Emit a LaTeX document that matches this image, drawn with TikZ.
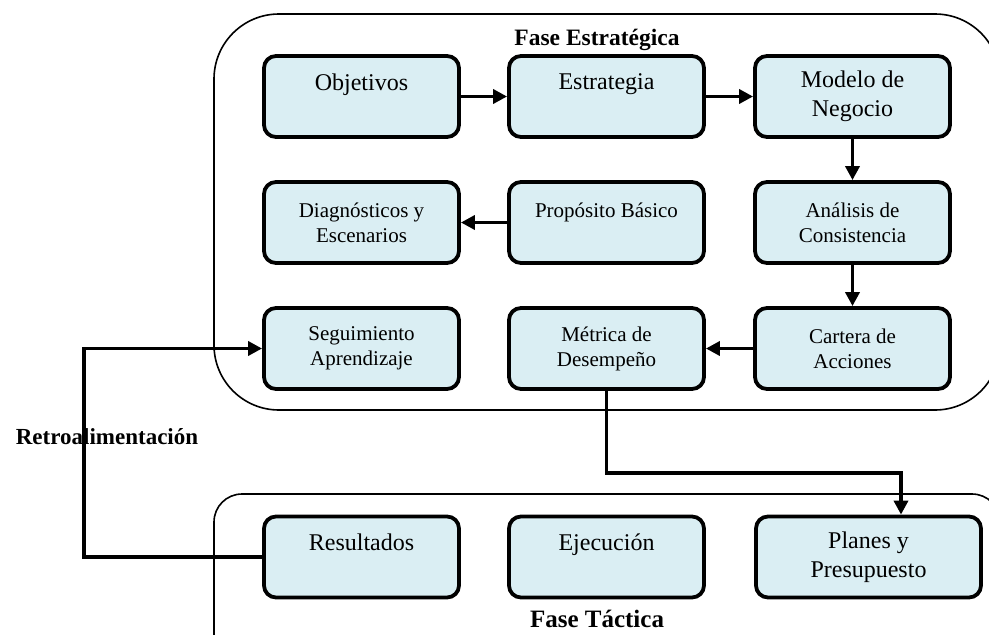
\documentclass[tikz,border=0pt]{standalone}
\usepackage{fontspec}
\setmainfont{Liberation Serif}
\usetikzlibrary{arrows.meta}
\definecolor{boxfill}{HTML}{DAEEF3}
\begin{document}
\begin{tikzpicture}[x=1pt,y=-1pt,
  phase/.style={draw=black,line width=1.6pt},
  bigbox/.style={draw=black,fill=boxfill,line width=3.8pt,rounded corners=12pt,
    minimum width=195pt,minimum height=81pt,align=center,inner sep=0pt,
    font=\fontsize{24}{29}\selectfont},
  smallbox/.style={bigbox,font=\fontsize{21}{25}\selectfont},
  arr/.style={line width=3.5pt,-{Triangle[length=14pt,width=14pt]}},
  lbl/.style={font=\bfseries\fontsize{23.5}{28}\selectfont,inner sep=0pt}
]
\clip (0,0) rectangle (989,635);
% phase frames
\draw[phase,rounded corners=65pt] (214,14) rectangle (1000,410);
\draw[phase,rounded corners=28pt] (214,494) rectangle (1000,680);
% labels
\node[lbl] (fe) at (597,40) {Fase Estratégica};
\node[lbl,font=\bfseries\fontsize{25}{30}\selectfont] (ft) at (597,619) {Fase Táctica};
\node[lbl,font=\bfseries\fontsize{23}{28}\selectfont] (ret) at (107,437) {Retroalimentación};
% row 1
\node[bigbox] (obj) at (361.5,96.5) {Objetivos\\\mbox{}};
\node[bigbox] (est) at (606.5,96.5) {Estrategia\\\mbox{}};
\node[bigbox] (mod) at (852.5,96.5) {Modelo de\\Negocio};
% row 2
\node[smallbox] (dia) at (361.5,222.5) {Diagnósticos y\\Escenarios};
\node[smallbox] (pro) at (606.5,222.5) {Propósito Básico\\\mbox{}};
\node[smallbox] (ana) at (852.5,222.5) {Análisis de\\Consistencia};
% row 3
\node[smallbox] (seg) at (361.5,348.5) {Seguimiento\\Aprendizaje};
\node[smallbox] (met) at (606.5,348.5) {Métrica de\\Desempeño};
\node[smallbox] (car) at (852.5,348.5) {Cartera de\\Acciones};
% row 4
\node[bigbox] (res) at (361.5,557) {Resultados\\\mbox{}};
\node[bigbox] (eje) at (606.5,557) {Ejecución\\\mbox{}};
\node[bigbox,minimum width=225pt] (pla) at (868.5,557) {Planes y\\Presupuesto};
% connectors
\draw[arr] (obj) -- (est);
\draw[arr] (est) -- (mod);
\draw[arr] (mod) -- (ana);
\draw[arr] (pro) -- (dia);
\draw[arr] (ana) -- (car);
\draw[arr] (car) -- (met);
\coordinate (k1) at (606.5,473);
\coordinate (k2) at (901,473);
\draw[arr] (met.south) -- (k1) -- (k2) -- (k2 |- pla.north);
\coordinate (k3) at (84,557);
\draw[arr] (res.west) -- (k3) |- (seg.west);
\end{tikzpicture}
\end{document}
